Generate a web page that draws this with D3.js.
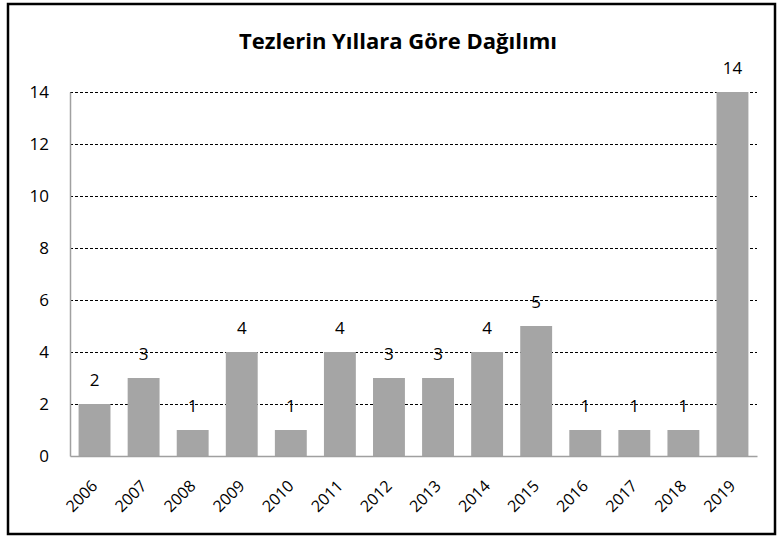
<!DOCTYPE html>
<html>
<head>
<meta charset="utf-8">
<script src="https://cdn.jsdelivr.net/npm/d3@7"></script>
<style>
  body { margin: 0; background: #fff; }
  #chart svg { display: block; }
</style>
</head>
<body>
<div id="chart"></div>
<script>
var years = ["2006", "2007", "2008", "2009", "2010", "2011", "2012", "2013", "2014", "2015", "2016", "2017", "2018", "2019"];
var counts = [2, 3, 1, 4, 1, 4, 3, 3, 4, 5, 1, 1, 1, 14];
var yTicks = [0, 2, 4, 6, 8, 10, 12, 14];
var title = "Tezlerin Yıllara Göre Dağılımı";

var W = 779, H = 537;
var margin = {top: 92, right: 22, bottom: 81, left: 70},
    width = W - margin.left - margin.right,
    height = H - margin.top - margin.bottom;
var font = "'Open Sans', 'Noto Sans', sans-serif";

var svg = d3.select("#chart").append("svg")
    .attr("width", W)
    .attr("height", H);

// outer frame
svg.append("rect")
    .attr("x", 8).attr("y", 4)
    .attr("width", 767).attr("height", 530)
    .attr("fill", "#fff")
    .attr("stroke", "#000")
    .attr("stroke-width", 2.5);

svg.append("text")
    .attr("x", 398).attr("y", 49)
    .attr("text-anchor", "middle")
    .style("font-family", font)
    .style("font-size", "22px")
    .style("font-weight", "bold")
    .text(title);

var g = svg.append("g")
    .attr("transform", "translate(" + margin.left + "," + margin.top + ")");

var x = d3.scaleBand().domain(years).range([0, width]).paddingInner(0.35).paddingOuter(0.175);
var y = d3.scaleLinear().domain([0, 14]).range([height, 0]);

// gridlines
g.selectAll(".grid").data(yTicks.filter(function(d) { return d > 0; }))
  .enter().append("line")
    .attr("x1", 0).attr("x2", width)
    .attr("y1", function(d) { return y(d) + 0.5; })
    .attr("y2", function(d) { return y(d) + 0.5; })
    .attr("stroke", "#000")
    .attr("stroke-width", 1)
    .attr("stroke-dasharray", "3,2");

// bars
g.selectAll(".bar").data(counts)
  .enter().append("rect")
    .attr("x", function(d, i) { return x(years[i]); })
    .attr("y", function(d) { return y(d); })
    .attr("width", x.bandwidth())
    .attr("height", function(d) { return height - y(d); })
    .attr("fill", "#a5a5a5");

// value labels
g.selectAll(".val").data(counts)
  .enter().append("text")
    .attr("x", function(d, i) { return x(years[i]) + x.bandwidth() / 2; })
    .attr("y", function(d) { return y(d) - 18; })
    .attr("text-anchor", "middle")
    .style("font-family", font)
    .style("font-size", "17px")
    .text(function(d) { return d; });

// axes
var yAxis = g.append("g")
    .call(d3.axisLeft(y).tickValues(yTicks).tickSize(0).tickPadding(21));
yAxis.select(".domain").attr("stroke", "#a0a0a0").attr("stroke-width", 1.5);
yAxis.selectAll("text")
    .style("font-family", font)
    .style("font-size", "17px")
    .attr("fill", "#000");

var xAxis = g.append("g")
    .attr("transform", "translate(0," + height + ")")
    .call(d3.axisBottom(x).tickSize(0).tickPadding(0));
xAxis.select(".domain").attr("stroke", "#a0a0a0").attr("stroke-width", 1.5);
xAxis.selectAll("text")
    .style("font-family", font)
    .style("font-size", "16px")
    .attr("fill", "#000")
    .attr("text-anchor", "end")
    .attr("dy", null)
    .attr("transform", "translate(4,31) rotate(-45)");
</script>
</body>
</html>
